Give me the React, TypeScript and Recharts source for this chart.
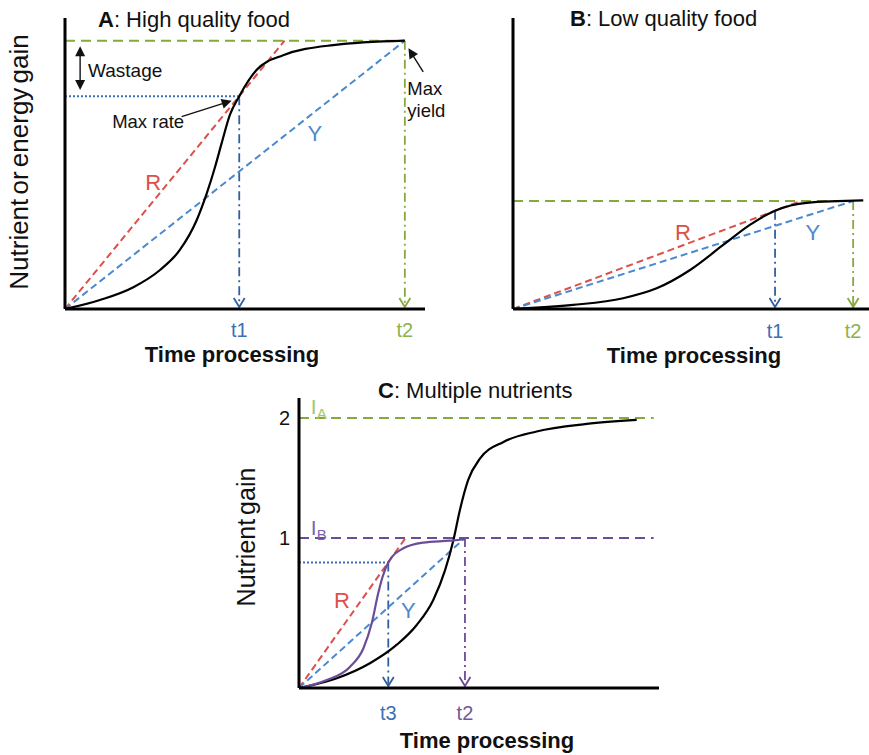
import React from 'react';
import { LineChart, Line, XAxis, YAxis, ReferenceLine, ReferenceDot } from 'recharts';

const FONT = '"Liberation Sans", Arial, Helvetica, sans-serif';

// ---------- Panel A: High quality food ----------
const aCurveX = [0, 0.97, 1.9, 2.64, 3.19, 3.66, 3.94, 4.17, 4.35, 4.58, 4.84, 5.32, 6.06, 7.45, 9.44];
const aCurveY = [0, 0.31, 0.75, 1.34, 2.03, 3.06, 3.98, 4.89, 5.69, 6.67, 7.31, 8.21, 8.72, 9.07, 9.22];
const aT1 = 4.84;
const aT2 = 9.44;
const aMaxRate = 7.31;
const aMaxYield = 9.22;
const aRateEndX = 6.1;
const aXTicks = [aT1, aT2];
const aXTickLabels = ['t1', 't2'];

// ---------- Panel B: Low quality food ----------
const bCurveX = [0, 1.67, 3.06, 3.99, 4.92, 5.84, 6.58, 7.28, 8.16, 9.73];
const bCurveY = [0, 0.14, 0.37, 0.71, 1.34, 2.2, 2.89, 3.38, 3.65, 3.73];
const bT1 = 7.28;
const bT2 = 9.45;
const bMaxRate = 3.38;
const bMaxYield = 3.71;
const bRateEndX = 8.0;
const bXTicks = [bT1, bT2];
const bXTickLabels = ['t1', 't2'];

// ---------- Panel C: Multiple nutrients ----------
const cBlackX = [0, 1.05, 1.97, 2.71, 3.27, 3.73, 4.06, 4.29, 4.47, 4.7, 5.03, 5.68, 6.6, 7.99, 9.38];
const cBlackY = [0, 0.065, 0.165, 0.287, 0.42, 0.587, 0.787, 0.987, 1.187, 1.387, 1.53, 1.64, 1.71, 1.76, 1.787];
const cPurpleX = [0, 0.77, 1.42, 1.79, 2.02, 2.2, 2.32, 2.48, 2.9, 3.45, 4.19, 4.52, 4.61];
const cPurpleY = [0, 0.053, 0.142, 0.265, 0.431, 0.631, 0.74, 0.837, 0.931, 0.969, 0.982, 0.99, 0.995];
const cT3 = 2.48;
const cT2 = 4.61;
const cMaxRate = 0.837;
const cIA = 1.8;
const cIB = 1.0;
const cRateEndX = 2.96;
const cLevelEndX = 9.85;
const cXTicks = [cT3, cT2];
const cXTickLabels = ['t3', 't2'];
const cYTicks = [cIB, cIA];
const cYTickLabels = ['1', '2'];

// ---------- colours ----------
const GREEN = '#86a83c';
const GREEN_TXT = '#8db24e';
const RED = '#dd5049';
const BLUE = '#4a88cf';
const DBLUE = '#30609f';
const BLUE_TXT = '#3c6fb4';
const PURPLE = '#6b4c99';
const PURPLE_TXT = '#6f5b98';
const IA_TXT = '#9fca62';
const IB_TXT = '#7c63ac';

type Pt = { x: number; y: number };
const pts = (xs: number[], ys: number[]): Pt[] => xs.map((x, i) => ({ x, y: ys[i] }));

const headPts = (tx: number, ty: number, dir: number, L: number, W: number) => {
  const bx = tx - L * Math.cos(dir);
  const by = ty - L * Math.sin(dir);
  const nx = -Math.sin(dir) * W;
  const ny = Math.cos(dir) * W;
  return `${bx + nx},${by + ny} ${tx},${ty} ${bx - nx},${by - ny}`;
};

type ArrowOpts = {
  color: string;
  width: number;
  dash?: string;
  head?: 'open' | 'filled' | 'none';
  tail?: 'filled' | 'none';
};

const arrowShape = (o: ArrowOpts) => (p: any) => {
  const { x1, y1, x2, y2 } = p;
  const a = Math.atan2(y2 - y1, x2 - x1);
  const c = Math.cos(a);
  const s = Math.sin(a);
  let sx1 = x1, sy1 = y1, sx2 = x2, sy2 = y2;
  let tipX = x2, tipY = y2;
  if (o.head === 'open') {
    tipX = x2 - 2 * c;
    tipY = y2 - 2 * s;
    sx2 = tipX;
    sy2 = tipY;
  }
  if (o.head === 'filled') {
    sx2 = x2 - 8 * c;
    sy2 = y2 - 8 * s;
  }
  if (o.tail === 'filled') {
    sx1 = x1 + 8 * c;
    sy1 = y1 + 8 * s;
  }
  return (
    <g>
      <line x1={sx1} y1={sy1} x2={sx2} y2={sy2} stroke={o.color} strokeWidth={o.width} strokeDasharray={o.dash} />
      {o.head === 'open' && (
        <polyline points={headPts(tipX, tipY, a, 9, 5.5)} fill="none" stroke={o.color} strokeWidth={1.8} />
      )}
      {o.head === 'filled' && <polygon points={headPts(x2, y2, a, 10, 5)} fill={o.color} />}
      {o.tail === 'filled' && <polygon points={headPts(x1, y1, a + Math.PI, 10, 5)} fill={o.color} />}
    </g>
  );
};

const makeXTick = (labels: string[], colors: string[], dy: number) => (p: any) => (
  <text x={p.x} y={p.y + dy} textAnchor="middle" fill={colors[p.index]} fontSize={20} fontFamily={FONT}>
    {labels[p.index]}
  </text>
);

const makeYTick = (labels: string[]) => (p: any) => (
  <text x={p.x} y={p.y} dy="0.36em" textAnchor="end" fill="#111" fontSize={20} fontFamily={FONT}>
    {labels[p.index]}
  </text>
);

const textLabel = (text: string, color: string, size: number, anchor: 'start' | 'middle' = 'middle') => (p: any) => {
  const vb = p.viewBox || {};
  const cx = (vb.x ?? 0) + (vb.width ?? 0) / 2;
  const cy = (vb.y ?? 0) + (vb.height ?? 0) / 2;
  return (
    <text x={cx} y={cy} dy="0.36em" textAnchor={anchor} fill={color} fontSize={size} fontFamily={FONT}>
      {text}
    </text>
  );
};

const subLabel = (main: string, sub: string, color: string) => (p: any) => {
  const vb = p.viewBox || {};
  const cx = (vb.x ?? 0) + (vb.width ?? 0) / 2;
  const cy = (vb.y ?? 0) + (vb.height ?? 0) / 2;
  return (
    <text x={cx} y={cy} dy="0.36em" textAnchor="middle" fill={color} fontSize={21} fontFamily={FONT}>
      {main}
      <tspan fontSize={15} dy={5}>
        {sub}
      </tspan>
    </text>
  );
};

const axisLine = { stroke: '#000', strokeWidth: 3 };
const DASH = '7 4';
const LEVEL_DASH = '10 6';
const DASHDOT = '9 4 2 4';

const invisible = { r: 1, fill: 'none', stroke: 'none', ifOverflow: 'visible' as const };

function PanelA() {
  return (
    <LineChart width={470} height={370} margin={{ top: 18, left: 45, right: 45, bottom: 31 }}>
      <XAxis
        type="number"
        dataKey="x"
        domain={[0, 10]}
        allowDataOverflow
        ticks={aXTicks}
        interval={0}
        tickSize={0}
        tickMargin={0}
        tickLine={false}
        axisLine={axisLine}
        tick={makeXTick(aXTickLabels, [BLUE_TXT, GREEN_TXT], 28)}
        height={30}
      />
      <YAxis type="number" domain={[0, 10]} allowDataOverflow width={20} tick={false} tickLine={false} axisLine={axisLine} />
      <ReferenceLine
        ifOverflow="visible"
        segment={[{ x: 0, y: aMaxYield }, { x: aT2, y: aMaxYield }]}
        stroke={GREEN}
        strokeWidth={2}
        strokeDasharray={LEVEL_DASH}
      />
      <ReferenceLine
        ifOverflow="visible"
        segment={[{ x: 0, y: aMaxRate }, { x: aT1, y: aMaxRate }]}
        stroke={BLUE_TXT}
        strokeWidth={2}
        strokeDasharray="2 2"
      />
      <ReferenceLine
        ifOverflow="visible"
        segment={[{ x: aT1, y: aMaxRate }, { x: aT1, y: 0 }]}
        shape={arrowShape({ color: DBLUE, width: 1.8, dash: DASHDOT, head: 'open' })}
      />
      <ReferenceLine
        ifOverflow="visible"
        segment={[{ x: aT2, y: aMaxYield }, { x: aT2, y: 0 }]}
        shape={arrowShape({ color: GREEN, width: 1.8, dash: DASHDOT, head: 'open' })}
      />
      <ReferenceLine
        ifOverflow="visible"
        segment={[{ x: 0.42, y: 7.53 }, { x: 0.42, y: 9.03 }]}
        shape={arrowShape({ color: '#111', width: 1.4, head: 'filled', tail: 'filled' })}
      />
      <ReferenceLine
        ifOverflow="visible"
        segment={[{ x: 3.24, y: 6.61 }, { x: 4.63, y: 7.16 }]}
        shape={arrowShape({ color: '#111', width: 1.4, head: 'filled' })}
      />
      <ReferenceLine
        ifOverflow="visible"
        segment={[{ x: 9.95, y: 8.15 }, { x: 9.54, y: 8.96 }]}
        shape={arrowShape({ color: '#111', width: 1.4, head: 'filled' })}
      />
      <Line
        data={pts([0, aRateEndX], [0, aMaxYield])}
        dataKey="y"
        type="linear"
        stroke={RED}
        strokeWidth={2}
        strokeDasharray={DASH}
        dot={false}
        isAnimationActive={false}
      />
      <Line
        data={pts([0, aT2], [0, aMaxYield])}
        dataKey="y"
        type="linear"
        stroke={BLUE}
        strokeWidth={2}
        strokeDasharray={DASH}
        dot={false}
        isAnimationActive={false}
      />
      <Line
        data={pts(aCurveX, aCurveY)}
        dataKey="y"
        type="monotone"
        stroke="#000"
        strokeWidth={2.2}
        dot={false}
        isAnimationActive={false}
      />
      <ReferenceDot x={0.64} y={8.21} {...invisible} label={textLabel('Wastage', '#111', 19, 'start')} />
      <ReferenceDot x={1.31} y={6.44} {...invisible} label={textLabel('Max rate', '#111', 18.5, 'start')} />
      <ReferenceDot x={9.51} y={7.58} {...invisible} label={textLabel('Max', '#111', 18.5, 'start')} />
      <ReferenceDot x={9.51} y={6.84} {...invisible} label={textLabel('yield', '#111', 18.5, 'start')} />
      <ReferenceDot x={2.45} y={4.37} {...invisible} label={textLabel('R', RED, 22)} />
      <ReferenceDot x={6.94} y={6.04} {...invisible} label={textLabel('Y', BLUE, 22)} />
    </LineChart>
  );
}

function PanelB() {
  return (
    <LineChart width={429} height={370} margin={{ top: 18, left: 53, right: 0, bottom: 31 }}>
      <XAxis
        type="number"
        dataKey="x"
        domain={[0, 9.89]}
        allowDataOverflow
        ticks={bXTicks}
        interval={0}
        tickSize={0}
        tickMargin={0}
        tickLine={false}
        axisLine={axisLine}
        tick={makeXTick(bXTickLabels, [BLUE_TXT, GREEN_TXT], 29)}
        height={30}
      />
      <YAxis type="number" domain={[0, 10]} allowDataOverflow width={20} tick={false} tickLine={false} axisLine={axisLine} />
      <ReferenceLine
        ifOverflow="visible"
        segment={[{ x: 0, y: bMaxYield }, { x: bT2, y: bMaxYield }]}
        stroke={GREEN}
        strokeWidth={2}
        strokeDasharray={LEVEL_DASH}
      />
      <ReferenceLine
        ifOverflow="visible"
        segment={[{ x: bT1, y: bMaxRate }, { x: bT1, y: 0 }]}
        shape={arrowShape({ color: DBLUE, width: 1.8, dash: DASHDOT, head: 'open' })}
      />
      <ReferenceLine
        ifOverflow="visible"
        segment={[{ x: bT2, y: bMaxYield }, { x: bT2, y: 0 }]}
        shape={arrowShape({ color: GREEN, width: 1.8, dash: DASHDOT, head: 'open' })}
      />
      <Line
        data={pts([0, bRateEndX], [0, bMaxYield])}
        dataKey="y"
        type="linear"
        stroke={RED}
        strokeWidth={2}
        strokeDasharray={DASH}
        dot={false}
        isAnimationActive={false}
      />
      <Line
        data={pts([0, bT2], [0, bMaxYield])}
        dataKey="y"
        type="linear"
        stroke={BLUE}
        strokeWidth={2}
        strokeDasharray={DASH}
        dot={false}
        isAnimationActive={false}
      />
      <Line
        data={pts(bCurveX, bCurveY)}
        dataKey="y"
        type="monotone"
        stroke="#000"
        strokeWidth={2.2}
        dot={false}
        isAnimationActive={false}
      />
      <ReferenceDot x={4.72} y={2.65} {...invisible} label={textLabel('R', RED, 22)} />
      <ReferenceDot x={8.33} y={2.65} {...invisible} label={textLabel('Y', BLUE, 22)} />
    </LineChart>
  );
}

function PanelC() {
  return (
    <LineChart width={460} height={385} margin={{ top: 28, left: 59, right: 21, bottom: 37 }}>
      <XAxis
        type="number"
        dataKey="x"
        domain={[0, 10]}
        allowDataOverflow
        ticks={cXTicks}
        interval={0}
        tickSize={0}
        tickMargin={0}
        tickLine={false}
        axisLine={axisLine}
        tick={makeXTick(cXTickLabels, [BLUE_TXT, PURPLE_TXT], 32)}
        height={30}
      />
      <YAxis
        type="number"
        domain={[0, 1.933]}
        allowDataOverflow
        width={20}
        ticks={cYTicks}
        interval={0}
        tickSize={0}
        tickMargin={9}
        tickLine={false}
        axisLine={axisLine}
        tick={makeYTick(cYTickLabels)}
      />
      <ReferenceLine
        ifOverflow="visible"
        segment={[{ x: 0, y: cIA }, { x: cLevelEndX, y: cIA }]}
        stroke={GREEN}
        strokeWidth={2}
        strokeDasharray={LEVEL_DASH}
      />
      <ReferenceLine
        ifOverflow="visible"
        segment={[{ x: 0, y: cIB }, { x: cLevelEndX, y: cIB }]}
        stroke={PURPLE}
        strokeWidth={2}
        strokeDasharray={LEVEL_DASH}
      />
      <ReferenceLine
        ifOverflow="visible"
        segment={[{ x: 0, y: cMaxRate }, { x: cT3, y: cMaxRate }]}
        stroke={BLUE_TXT}
        strokeWidth={2}
        strokeDasharray="2 2"
      />
      <ReferenceLine
        ifOverflow="visible"
        segment={[{ x: cT3, y: cMaxRate }, { x: cT3, y: 0 }]}
        shape={arrowShape({ color: DBLUE, width: 1.8, dash: DASHDOT, head: 'open' })}
      />
      <ReferenceLine
        ifOverflow="visible"
        segment={[{ x: cT2, y: cIB }, { x: cT2, y: 0 }]}
        shape={arrowShape({ color: PURPLE, width: 1.8, dash: DASHDOT, head: 'open' })}
      />
      <Line
        data={pts([0, cRateEndX], [0, cIB])}
        dataKey="y"
        type="linear"
        stroke={RED}
        strokeWidth={2}
        strokeDasharray={DASH}
        dot={false}
        isAnimationActive={false}
      />
      <Line
        data={pts([0, cT2], [0, cIB])}
        dataKey="y"
        type="linear"
        stroke={BLUE}
        strokeWidth={2}
        strokeDasharray={DASH}
        dot={false}
        isAnimationActive={false}
      />
      <Line
        data={pts(cBlackX, cBlackY)}
        dataKey="y"
        type="monotone"
        stroke="#000"
        strokeWidth={2.2}
        dot={false}
        isAnimationActive={false}
      />
      <Line
        data={pts(cPurpleX, cPurpleY)}
        dataKey="y"
        type="monotone"
        stroke={PURPLE}
        strokeWidth={2.2}
        dot={false}
        isAnimationActive={false}
      />
      <ReferenceDot x={0.55} y={1.875} {...invisible} label={subLabel('I', 'A', IA_TXT)} />
      <ReferenceDot x={0.55} y={1.07} {...invisible} label={subLabel('I', 'B', IB_TXT)} />
      <ReferenceDot x={1.19} y={0.587} {...invisible} label={textLabel('R', RED, 22)} />
      <ReferenceDot x={3.04} y={0.52} {...invisible} label={textLabel('Y', BLUE, 22)} />
    </LineChart>
  );
}

export default function App() {
  const titleStyle = { fontFamily: FONT, fontSize: 22, fill: '#111' };
  return (
    <div style={{ position: 'absolute', left: 0, top: 0, width: 869, height: 755, background: '#fff', overflow: 'hidden' }}>
      <div style={{ position: 'absolute', left: 0, top: 0 }}>
        <PanelA />
      </div>
      <div style={{ position: 'absolute', left: 440, top: 0 }}>
        <PanelB />
      </div>
      <div style={{ position: 'absolute', left: 220, top: 370 }}>
        <PanelC />
      </div>
      <svg width={869} height={755} style={{ position: 'absolute', left: 0, top: 0, pointerEvents: 'none' }}>
        <text x={98} y={27} {...titleStyle}>
          <tspan fontWeight="bold">A</tspan>: High quality food
        </text>
        <text x={570} y={26} {...titleStyle}>
          <tspan fontWeight="bold">B</tspan>: Low quality food
        </text>
        <text x={378} y={398} {...titleStyle}>
          <tspan fontWeight="bold">C</tspan>: Multiple nutrients
        </text>
        <text x={232} y={362} textAnchor="middle" fontFamily={FONT} fontSize={22} fontWeight="bold" fill="#111">
          Time processing
        </text>
        <text x={694} y={363} textAnchor="middle" fontFamily={FONT} fontSize={22} fontWeight="bold" fill="#111">
          Time processing
        </text>
        <text x={487} y={748} textAnchor="middle" fontFamily={FONT} fontSize={22} fontWeight="bold" fill="#111">
          Time processing
        </text>
        <text
          x={28}
          y={162}
          transform="rotate(-90 28 162)"
          textAnchor="middle"
          fontFamily={FONT}
          fontSize={26}
          wordSpacing={-3}
          fill="#111"
        >
          Nutrient or energy gain
        </text>
        <text
          x={255}
          y={537}
          transform="rotate(-90 255 537)"
          textAnchor="middle"
          fontFamily={FONT}
          fontSize={25}
          wordSpacing={-3}
          fill="#111"
        >
          Nutrient gain
        </text>
      </svg>
    </div>
  );
}
